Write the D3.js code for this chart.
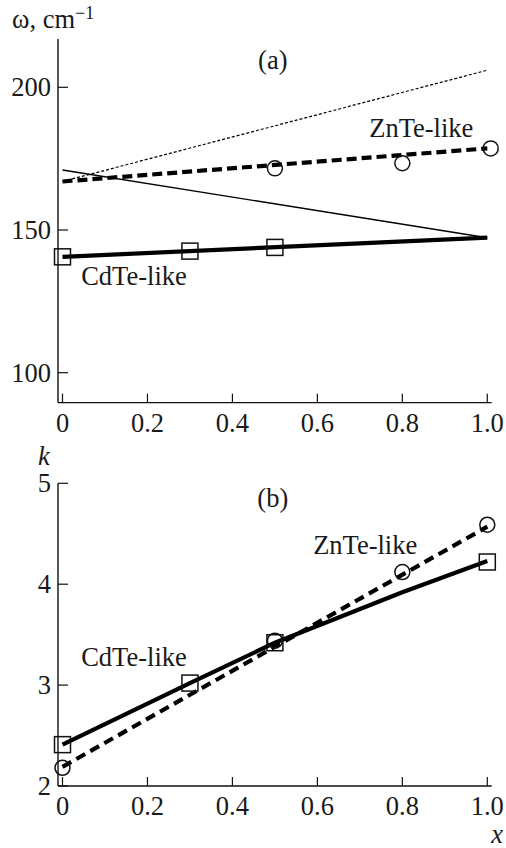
<!DOCTYPE html>
<html>
<head>
<meta charset="utf-8">
<script src="https://cdnjs.cloudflare.com/ajax/libs/d3/7.8.5/d3.min.js"></script>
<style>
  body { margin: 0; background: #fff; }
</style>
</head>
<body>
<div id="chart"></div>
<script>
// composition x, shared by both panels
var xTicks = [0, 0.2, 0.4, 0.6, 0.8, 1.0];
var xTickLabels = ["0", "0.2", "0.4", "0.6", "0.8", "1.0"];

// panel (a): phonon frequencies, cm-1
var freqTicks = [100, 150, 200];
var cdteFreqX = [0, 0.3, 0.5];
var cdteFreq = [140.6, 142.6, 143.9];
var znteFreqX = [0.5, 0.8, 1.008];
var znteFreq = [171.6, 173.4, 178.6];
var cdteFreqFitX = [0, 1];
var cdteFreqFit = [140.6, 147.3];
var znteFreqFitX = [0, 1];
var znteFreqFit = [167.0, 178.6];
var thinSolidX = [0, 1];
var thinSolid = [171.0, 147.3];
var thinDottedX = [0, 1];
var thinDotted = [167.0, 206.0];

// panel (b): k
var kTicks = [2, 3, 4, 5];
var cdteKX = [0, 0.3, 0.5, 1.0];
var cdteK = [2.41, 3.02, 3.42, 4.22];
var znteKX = [0, 0.5, 0.8, 1.0];
var znteK = [2.18, 3.44, 4.12, 4.59];
var cdteKFitX = [0, 0.3, 0.5, 0.8, 1.0];
var cdteKFit = [2.41, 3.02, 3.42, 3.92, 4.23];
var znteKFitX = [0, 1];
var znteKFit = [2.19, 4.57];

var W = 506, H = 848;
var svg = d3.select("#chart").append("svg").attr("width", W).attr("height", H)
  .attr("font-family", "'Liberation Serif', 'Times New Roman', serif");

var x = d3.scaleLinear().domain([0, 1]).range([62.5, 487.3]);
var axisLeft = 58, axisRight = 491.7;
var fontSize = 26.5;
var ink = "#1a1a1a";

function zip(xs, ys) { return xs.map(function(v, i) { return [v, ys[i]]; }); }

function drawPanel(opt) {
  var y = opt.y;
  var g = svg.append("g");
  var yBottom = y(opt.yMin), yTop = y(opt.yMax);

  // axis lines
  g.append("line").attr("x1", axisLeft).attr("x2", axisLeft).attr("y1", yTop).attr("y2", yBottom)
    .attr("stroke", "#111").attr("stroke-width", 1.4);
  g.append("line").attr("x1", axisLeft).attr("x2", axisRight).attr("y1", yBottom).attr("y2", yBottom)
    .attr("stroke", "#111").attr("stroke-width", 1.4);

  // x ticks (inward)
  xTicks.forEach(function(t, i) {
    g.append("line").attr("x1", x(t)).attr("x2", x(t)).attr("y1", yBottom).attr("y2", yBottom - 9)
      .attr("stroke", "#111").attr("stroke-width", 1.2);
    g.append("text").attr("x", x(t)).attr("y", yBottom + opt.xLabelDy).attr("fill", ink)
      .attr("text-anchor", "middle").attr("font-size", fontSize).text(xTickLabels[i]);
  });

  // y ticks (inward)
  opt.yTicks.forEach(function(t) {
    g.append("line").attr("x1", axisLeft).attr("x2", axisLeft + 10).attr("y1", y(t)).attr("y2", y(t))
      .attr("stroke", "#111").attr("stroke-width", 1.2);
    g.append("text").attr("x", 51).attr("y", y(t) + 9).attr("fill", ink)
      .attr("text-anchor", "end").attr("font-size", fontSize).text(t);
  });

  var line = d3.line().x(function(d) { return x(d[0]); }).y(function(d) { return y(d[1]); });

  opt.lines.forEach(function(l) {
    g.append("path").datum(zip(l.xs, l.ys)).attr("d", line)
      .attr("fill", "none").attr("stroke", "#000")
      .attr("stroke-width", l.width)
      .attr("stroke-dasharray", l.dash || null);
  });

  // squares
  g.selectAll("rect.sq").data(zip(opt.sqX, opt.sqY)).enter().append("rect")
    .attr("x", function(d) { return x(d[0]) - 8; })
    .attr("y", function(d) { return y(d[1]) - 8; })
    .attr("width", 16).attr("height", 16)
    .attr("fill", "none").attr("stroke", "#111").attr("stroke-width", 1.5);

  // circles
  g.selectAll("circle.ci").data(zip(opt.ciX, opt.ciY)).enter().append("circle")
    .attr("cx", function(d) { return x(d[0]); })
    .attr("cy", function(d) { return y(d[1]); })
    .attr("r", 7.5)
    .attr("fill", "none").attr("stroke", "#111").attr("stroke-width", 1.5);

  opt.labels.forEach(function(lb) {
    g.append("text").attr("x", x(lb.x)).attr("y", y(lb.y)).attr("fill", ink)
      .attr("text-anchor", lb.anchor || "start").attr("font-size", fontSize).text(lb.text);
  });
  return g;
}

// panel (a)
var ya = d3.scaleLinear().domain([100, 200]).range([372.7, 87.3]);
drawPanel({
  y: ya, yMin: 89.5, yMax: 216.9, yTicks: freqTicks, xLabelDy: 29,
  lines: [
    { xs: thinDottedX, ys: thinDotted, width: 1.2, dash: "3,2" },
    { xs: thinSolidX, ys: thinSolid, width: 1.4 },
    { xs: cdteFreqFitX, ys: cdteFreqFit, width: 4.2 },
    { xs: znteFreqFitX, ys: znteFreqFit, width: 4.2, dash: "10,5" }
  ],
  sqX: cdteFreqX, sqY: cdteFreq,
  ciX: znteFreqX, ciY: znteFreq,
  labels: [
    { x: 0.495, y: 206.5, text: "(a)", anchor: "middle" },
    { x: 0.722, y: 182.6, text: "ZnTe-like" },
    { x: 0.044, y: 130.6, text: "CdTe-like" }
  ]
});

// panel (b)
var yb = d3.scaleLinear().domain([2, 5]).range([786, 483.3]);
drawPanel({
  y: yb, yMin: 2, yMax: 5, yTicks: kTicks, xLabelDy: 29,
  lines: [
    { xs: cdteKFitX, ys: cdteKFit, width: 4.2 },
    { xs: znteKFitX, ys: znteKFit, width: 4.2, dash: "10,6" }
  ],
  sqX: cdteKX, sqY: cdteK,
  ciX: znteKX, ciY: znteK,
  labels: [
    { x: 0.495, y: 4.77, text: "(b)", anchor: "middle" },
    { x: 0.590, y: 4.30, text: "ZnTe-like" },
    { x: 0.044, y: 3.19, text: "CdTe-like" }
  ]
});

// axis titles
var om = svg.append("text").attr("x", 12).attr("y", 28).attr("font-size", fontSize).attr("fill", ink);
om.append("tspan").text("\u03c9, cm");
om.append("tspan").attr("dy", -9).attr("font-size", 18).text("\u22121");

svg.append("text").attr("x", 38).attr("y", 465).attr("font-size", fontSize).attr("fill", ink)
  .attr("font-style", "italic").text("k");
svg.append("text").attr("x", 503).attr("y", 843).attr("text-anchor", "end").attr("fill", ink)
  .attr("font-size", fontSize).attr("font-style", "italic").text("x");
</script>
</body>
</html>
